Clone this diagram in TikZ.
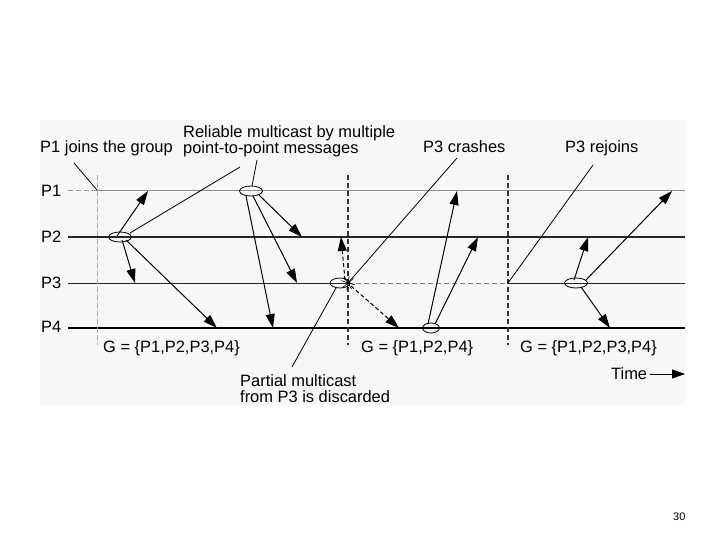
\documentclass[tikz,border=0pt]{standalone}
\usepackage{fontspec}
\setmainfont{Liberation Sans}
\usetikzlibrary{arrows.meta,shapes.geometric}

\begin{document}
\begin{tikzpicture}[
  x=1bp, y=-1bp,
  txt/.style={font=\fontsize{16.5}{16}\selectfont, inner sep=0pt},
  member/.style={txt, anchor=west},
  note/.style={txt, anchor=base west},
  multinote/.style={txt, align=left, anchor=north west},
  lane/.style={line width=1.2pt, black!85},
  cut/.style={line width=1.3pt, dash pattern=on 5bp off 3bp},
  cast/.style={draw, ellipse, line width=0.8pt, minimum width=23bp, minimum height=10bp, inner sep=0pt},
  msg/.style={-{Triangle[length=14bp,width=9bp]}, line width=1pt},
  dropped/.style={msg, dash pattern=on 4bp off 2.5bp},
  pointer/.style={line width=0.8pt}
]
\useasboundingbox (0,0) rectangle (720,540);
\fill[black!3] (40,120) rectangle (685,405);

% process names and time lines
\node[member] (p1) at (41,191) {P1};
\node[member] (p2) at (41,237) {P2};
\node[member] (p3) at (41,283) {P3};
\node[member] (p4) at (41,327) {P4};
\coordinate (s1) at (68,190);  \coordinate (j1) at (97,190);  \coordinate (e1) at (685,190);
\coordinate (s2) at (68,237);  \coordinate (e2) at (685,237);
\coordinate (s3) at (68,283);  \coordinate (c3) at (348,283); \coordinate (r3) at (508,283); \coordinate (e3) at (685,283);
\coordinate (s4) at (68,328);  \coordinate (e4) at (685,328);
\draw[black!40, line width=1pt, dash pattern=on 5bp off 3bp] (s1) -- (j1);
\draw[black!45, line width=1pt] (j1) -- (e1);
\draw[lane] (s2) -- (e2);
\draw[lane, line width=1pt] (s3) -- (c3);
\draw[black!50, line width=1pt, dash pattern=on 5bp off 3bp] (c3) -- (r3);
\draw[lane, line width=1pt] (r3) -- (e3);
\draw[lane, line width=1.6pt, black] (s4) -- (e4);

% view changes
\coordinate (v1a) at (97,175);  \coordinate (v1b) at (97,345);
\coordinate (v2a) at (348,175); \coordinate (v2b) at (348,345);
\coordinate (v3a) at (508,175); \coordinate (v3b) at (508,345);
\draw[cut, black!35, line width=1pt] (v1a) -- (v1b);
\draw[cut, black!80] (v2a) -- (v2b);
\draw[cut, black!80] (v3a) -- (v3b);

% multicasts
\node[cast] (jcast) at (120,237) {};
\node[cast] (acast) at (251,191) {};
\node[cast, minimum width=20bp] (xcast) at (340,283) {};
\node[cast, minimum width=17bp] (bcast) at (431,328) {};
\node[cast] (rcast) at (576,283) {};

\coordinate (ja) at (117,236); \coordinate (jt1) at (148,191);
\coordinate (jb) at (122,240); \coordinate (jt3) at (135,283);
\coordinate (jc) at (126,240); \coordinate (jt4) at (217,328);
\draw[msg] (ja) -- (jt1);
\draw[msg] (jb) -- (jt3);
\draw[msg] (jc) -- (jt4);

\coordinate (aa) at (259,195); \coordinate (at2) at (302,237);
\coordinate (ab) at (253,196); \coordinate (at3) at (297,283);
\coordinate (ac) at (246,196); \coordinate (at4) at (273,328);
\draw[msg] (aa) -- (at2);
\draw[msg] (ab) -- (at3);
\draw[msg] (ac) -- (at4);

\coordinate (xa) at (345,280); \coordinate (xt2) at (341,237);
\coordinate (xb) at (351,286); \coordinate (xt4) at (399,328);
\draw[dropped] (xa) -- (xt2);
\draw[dropped] (xb) -- (xt4);
\foreach \a in {15,60,100,140,200,235,280,320}
  \draw[line width=0.6pt] (c3) -- ++(\a:7);

\coordinate (ba) at (428,324); \coordinate (bt1) at (457,191);
\coordinate (bb) at (435,324); \coordinate (bt2) at (478,237);
\draw[msg] (ba) -- (bt1);
\draw[msg] (bb) -- (bt2);

\coordinate (ra) at (574,280); \coordinate (rt2) at (588,237);
\coordinate (rb) at (581,287); \coordinate (rt4) at (610,328);
\coordinate (rc) at (586,280); \coordinate (rt1) at (672,191);
\draw[msg] (ra) -- (rt2);
\draw[msg] (rb) -- (rt4);
\draw[msg] (rc) -- (rt1);

% callouts
\node[note] (joins) at (40,153) {P1 joins the group};
\node[multinote] (reliable) at (183,125) {Reliable multicast by multiple\\point-to-point messages};
\node[note] (crashes) at (423,153) {P3 crashes};
\node[note] (rejoins) at (565,153) {P3 rejoins};
\node[multinote] (partial) at (240,374) {Partial multicast\\from P3 is discarded};
\coordinate (q1) at (74,163);
\coordinate (q2) at (240,167); \coordinate (q2e) at (130,233);
\coordinate (q3) at (257,160); \coordinate (q3e) at (252,186);
\coordinate (q4) at (457,158);
\coordinate (q5) at (593,165);
\coordinate (q6) at (292,367); \coordinate (q6e) at (336,288);
\draw[pointer] (q1) -- (j1);
\draw[pointer] (q2) -- (q2e);
\draw[pointer] (q3) -- (q3e);
\draw[pointer] (q4) -- (c3);
\draw[pointer] (q5) -- (r3);
\draw[pointer] (q6) -- (q6e);

% group views
\node[note] (g1) at (103,352) {G = \{P1,P2,P3,P4\}};
\node[note] (g2) at (361,352) {G = \{P1,P2,P4\}};
\node[note] (g3) at (520,352) {G = \{P1,P2,P3,P4\}};

\node[note] (time) at (611,379) {Time};
\coordinate (tstart) at (650,374);
\coordinate (tend) at (685,374);
\draw[-{Triangle[length=13bp,width=9bp]}, line width=1pt] (tstart) -- (tend);

\node[inner sep=0pt, anchor=base west, font=\fontsize{11}{12}\selectfont] (page) at (673,520) {30};
\end{tikzpicture}
\end{document}
